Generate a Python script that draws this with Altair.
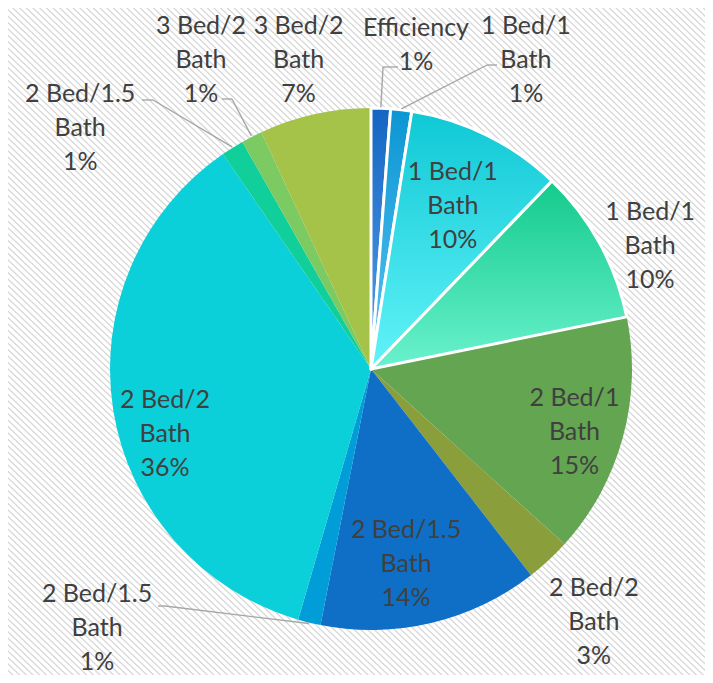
import math
import altair as alt
import pandas as pd

# ---------------- data ----------------
categories = ["Efficiency", "1 Bed/1 Bath", "1 Bed/1 Bath", "1 Bed/1 Bath",
              "2 Bed/1 Bath", "2 Bed/2 Bath", "2 Bed/1.5 Bath", "2 Bed/1.5 Bath",
              "2 Bed/2 Bath", "2 Bed/1.5 Bath", "3 Bed/2 Bath", "3 Bed/2 Bath"]
shares = [1.2, 1.3, 9.7, 9.6, 14.9, 2.8, 13.6, 1.4, 35.9, 1.4, 1.3, 6.9]

# ---------------- style / layout ----------------
W, H = 697, 667
CX, CY, R = 363, 361, 261
FONT = "Lato"
FONT_SIZE = 25
LINE_H = 34
TEXT_COLOR = "#404040"

solid_colors = ["#1669c4", "#0e9ad5", "#0fc9d6", "#14cc8f", "#64a552", "#8a9e3b",
                "#0f6fc6", "#009dd9", "#0bd0d9", "#10cf9b", "#7cca62", "#a5c249"]
gradient_colors = {0: ("#1565c2", "#579fe8"), 1: ("#0b96d3", "#5ac4f2"),
                   2: ("#0fc8d5", "#62f3f8"), 3: ("#14ca8c", "#6af2cd")}

label_angle_deg = [7.9, 26.6, 26.7, 66.2, 107.2, 138.6, 169.8, 226.6, 252.5, 309.7, 331.2, 346.8]
label_radius = [327, 346, 182, 305, 213, 337, 198, 377, 216, 378, 353, 317]
# leader lines: (elbow dx, dy, end dx, dy) relative to pie centre
leaders = {0: (12, -302, 27, -302), 1: (116, -304, 126, -304),
           7: (-206, 237, -213, 237), 9: (-218, -269, -229, -269),
           10: (-139, -270, -149, -270)}

rows = []
for i, (c, s) in enumerate(zip(categories, shares)):
    ld = leaders.get(i, (0, 0, 0, 0))
    rows.append({"idx": i, "cat": c, "share": s,
                 "la": label_angle_deg[i], "lr": label_radius[i],
                 "lead": 1 if i in leaders else 0,
                 "e1x": ld[0], "e1y": ld[1], "e2x": ld[2], "e2y": ld[3]})
df = pd.DataFrame(rows)

theta_scale = alt.Scale(domain=[0, 1], range=[0, 2 * math.pi], nice=False, zero=False)

base = (
    alt.Chart(df)
    .transform_joinaggregate(total="sum(share)")
    .transform_window(cum="sum(share)", sort=[alt.SortField("idx")], frame=[None, 0])
    .transform_calculate(
        t0="(datum.cum - datum.share) / datum.total",
        t1="datum.cum / datum.total",
    )
    .transform_calculate(mid="PI * (datum.t0 + datum.t1)")
)

# striped background
stops = []
N = 208
for k in range(N):
    a = k / N
    stops += [
        {"offset": round(a, 6), "color": "#ffffff"},
        {"offset": round(a + 0.50 / N, 6), "color": "#ffffff"},
        {"offset": round(a + 0.66 / N, 6), "color": "#dadada"},
        {"offset": round(a + 0.80 / N, 6), "color": "#dadada"},
        {"offset": round(min(1.0, a + 0.96 / N), 6), "color": "#ffffff"},
    ]
bg_grad = {"gradient": "linear", "x1": 0, "y1": 1, "x2": 1, "y2": 0, "stops": stops}
background = alt.Chart(alt.Data(values=[{}])).mark_rect(fill=bg_grad, stroke=None).encode(
    x=alt.value(0), x2=alt.value(W), y=alt.value(0), y2=alt.value(H)
)

arc_enc = dict(
    theta=alt.Theta("t0:Q", scale=theta_scale, stack=None),
    theta2=alt.Theta2("t1:Q"),
    x=alt.value(CX), y=alt.value(CY),
)

solid = base.transform_filter("datum.idx >= 4").mark_arc(outerRadius=R).encode(
    color=alt.Color("idx:N", scale=alt.Scale(domain=list(range(12)), range=solid_colors), legend=None),
    **arc_enc,
)

grad_layers = []
for i, (c0, c1) in gradient_colors.items():
    g = {"gradient": "linear", "x1": 0, "y1": 0, "x2": 0, "y2": 1,
         "stops": [{"offset": 0, "color": c0}, {"offset": 1, "color": c1}]}
    grad_layers.append(
        base.transform_filter(f"datum.idx == {i}")
        .mark_arc(outerRadius=R, fill=g, stroke="white", strokeWidth=3, strokeJoin="round")
        .encode(**arc_enc)
    )

lead_base = base.transform_filter("datum.lead == 1").transform_calculate(
    sx=f"{CX} + {R + 1} * sin(datum.mid)",
    sy=f"{CY} - {R + 1} * cos(datum.mid)",
    ex=f"{CX} + datum.e1x", ey=f"{CY} + datum.e1y",
    fx=f"{CX} + datum.e2x", fy=f"{CY} + datum.e2y",
)
rule1 = lead_base.mark_rule(color="#a6a6a6", strokeWidth=1.4).encode(
    x=alt.X("sx:Q", scale=None, axis=None), y=alt.Y("sy:Q", scale=None, axis=None),
    x2="ex:Q", y2="ey:Q")
rule2 = lead_base.mark_rule(color="#a6a6a6", strokeWidth=1.4).encode(
    x=alt.X("ex:Q", scale=None, axis=None), y=alt.Y("ey:Q", scale=None, axis=None),
    x2="fx:Q", y2="fy:Q")

labels = base.transform_calculate(
    label="replace(datum.cat, ' Bath', '\\nBath') + '\\n' + format(datum.share / datum.total, '.0%')",
    nlines="indexof(datum.cat, ' Bath') >= 0 ? 3 : 2",
).transform_calculate(
    lx=f"{CX} + datum.lr * sin(datum.la * PI / 180)",
    ly=f"{CY} - datum.lr * cos(datum.la * PI / 180) - (datum.nlines - 1) * {LINE_H / 2}",
).mark_text(font=FONT, fontSize=FONT_SIZE, color=TEXT_COLOR, lineBreak="\n", lineHeight=LINE_H,
            align="center", baseline="middle").encode(
    x=alt.X("lx:Q", scale=None, axis=None),
    y=alt.Y("ly:Q", scale=None, axis=None),
    text="label:N",
)

chart = alt.layer(background, solid, *grad_layers, rule1, rule2, labels).properties(
    width=W, height=H, padding=0, autosize=alt.AutoSizeParams(type="none"),
    background="white",
).configure_view(stroke=None)

chart.save("out.html", embed_options={"renderer": "svg", "actions": False})
